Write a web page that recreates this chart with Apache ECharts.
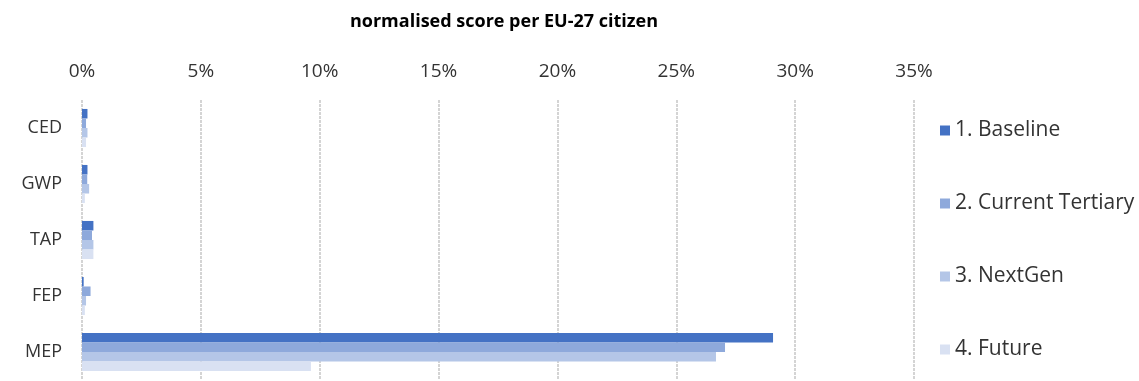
<!DOCTYPE html>
<html><head><meta charset="utf-8">
<script src="https://cdn.jsdelivr.net/npm/echarts@6/dist/echarts.min.js"></script>
<style>html,body{margin:0;padding:0;background:#fff}#c{width:1139px;height:381px}</style>
</head><body><div id="c"></div>
<script>
const categories = ['CED', 'GWP', 'TAP', 'FEP', 'MEP'];
const seriesNames = ['1. Baseline', '2. Current Tertiary', '3. NextGen', '4. Future'];
const baseline = [0.23, 0.23, 0.48, 0.07, 29.07];
const currentTertiary = [0.17, 0.22, 0.42, 0.36, 27.05];
const nextGen = [0.23, 0.30, 0.48, 0.17, 26.67];
const future = [0.17, 0.12, 0.48, 0.12, 9.63];
const colors = ['#4472C4', '#8EA9DB', '#B4C6E7', '#D9E1F2'];
const allValues = [baseline, currentTertiary, nextGen, future];
const font = 'Open Sans, Liberation Sans, sans-serif';

const chart = echarts.init(document.getElementById('c'));
chart.setOption({
  animation: false,
  title: {
    text: 'normalised score per EU-27 citizen',
    left: 499, top: 8, textAlign: 'center',
    textStyle: { fontFamily: font, fontSize: 18, fontWeight: 'bold', color: '#000' }
  },
  legend: {
    orient: 'vertical', left: 935, top: 115, itemGap: 52,
    itemWidth: 10, itemHeight: 10, icon: 'rect',
    textStyle: { fontFamily: font, fontSize: 21, lineHeight: 21, color: '#333', padding: [0, 0, 0, 0] },
    data: seriesNames
  },
  grid: { left: 82, right: 225, top: 100, bottom: 1, containLabel: false },
  xAxis: {
    type: 'value', position: 'top', min: 0, max: 35, interval: 5,
    axisLabel: { formatter: v => v + '%', fontFamily: font, fontSize: 19, color: '#333', margin: 19 },
    axisLine: { show: false }, axisTick: { show: false },
    splitLine: { show: true, lineStyle: { color: '#d4d4d4', type: [3, 1], width: 2 } }
  },
  yAxis: {
    type: 'category', inverse: true, data: categories,
    axisLabel: { fontFamily: font, fontSize: 18, color: '#333', margin: 20 },
    axisLine: { show: false }, axisTick: { show: false }
  },
  series: seriesNames.map((n, i) => ({
    name: n, type: 'bar', data: allValues[i], barCategoryGap: '32%', barGap: '0%',
    itemStyle: { color: colors[i] }
  }))
});
</script></body></html>
